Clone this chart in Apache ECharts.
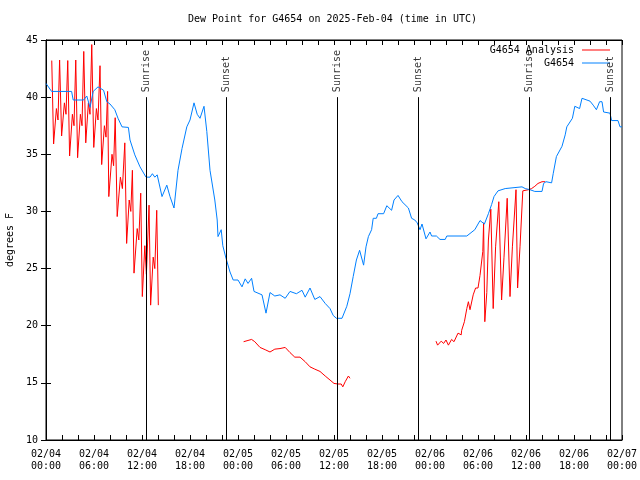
<!DOCTYPE html>
<html><head><meta charset="utf-8">
<script src="https://cdn.jsdelivr.net/npm/echarts@6/dist/echarts.min.js"></script>
<style>html,body{margin:0;padding:0;background:#fff}#c{width:640px;height:480px}</style>
</head><body><div id="c"></div>
<script>
// ---- data (hours since 2025-02-04 00:00 UTC, dew point °F) ----
const titleText = 'Dew Point for G4654 on 2025-Feb-04 (time in UTC)';
const yName = 'degrees F';
const yMin = 10, yMax = 45, yStep = 5;
const xMin = 0, xMax = 72, xStep = 2, xLabelEvery = 6;
const startDay = 4;

const obsG4654 = [
  [0.0,41.2],[0.16,41.2],[0.7,40.5],[3.2,40.5],[3.4,39.75],[4.7,39.75],[5.1,40.1],[5.5,39.1],[5.9,40.5],
  [6.5,40.9],[7.2,40.6],[7.6,39.6],[8.0,39.4],[8.6,38.9],[9.0,38.15],[9.5,37.4],[10.3,37.35],[10.5,36.25],
  [11.1,34.95],[11.75,33.9],[12.5,33.0],[13.0,33.0],[13.3,33.3],[13.6,33.0],[13.9,33.2],[14.5,31.3],[15.1,32.3],
  [15.5,31.3],[16.0,30.3],[16.5,33.6],[17.0,35.5],[17.6,37.4],[18.0,38.0],[18.5,39.5],[18.9,38.5],
  [19.25,38.15],[19.75,39.2],[20.1,37.0],[20.5,33.6],[21.1,31.0],[21.4,29.25],[21.5,27.8],[21.9,28.4],
  [22.1,27.0],[22.5,25.9],[23.0,24.7],[23.4,24.0],[24.0,24.0],[24.5,23.4],[24.9,24.1],[25.25,23.7],
  [25.7,24.15],[26.0,23.0],[27.0,22.7],[27.5,21.1],[28.0,22.9],[28.6,22.6],[29.25,22.7],[29.9,22.4],
  [30.5,23.0],[31.3,22.8],[32.0,23.1],[32.4,22.5],[33.0,23.3],[33.6,22.3],[34.25,22.55],[34.9,21.95],
  [35.5,21.5],[35.9,20.9],[36.3,20.65],[37.0,20.65],[37.6,21.7],[38.0,22.8],[38.4,24.3],[38.8,25.75],
  [39.2,26.6],[39.7,25.3],[40.0,26.9],[40.3,27.8],[40.7,28.4],[40.9,29.4],[41.3,29.4],[41.5,29.8],
  [42.2,29.8],[42.6,30.5],[43.2,30.1],[43.5,31.0],[44.0,31.4],[44.5,30.85],[45.3,30.3],[45.7,29.4],
  [46.1,29.25],[46.4,29.0],[46.75,28.4],[47.0,28.9],[47.5,27.6],[48.0,28.2],[48.2,27.85],[48.8,27.85],
  [49.25,27.55],[49.9,27.55],[50.1,27.85],[52.6,27.85],[53.6,28.4],[54.25,29.2],[54.8,28.9],[55.3,29.8],
  [55.7,30.6],[56.0,31.3],[56.5,31.8],[57.4,32.0],[59.5,32.15],[59.9,32.0],[60.5,31.9],[61.1,31.75],
  [62.0,31.75],[62.2,32.45],[62.5,32.6],[63.2,32.5],[63.4,33.3],[63.8,34.8],[64.5,35.7],[64.9,36.7],
  [65.1,37.4],[65.8,38.15],[66.1,39.2],[66.7,39.0],[67.0,39.9],[68.0,39.65],[68.4,39.3],[68.8,38.9],
  [69.2,39.6],[69.5,39.6],[69.7,38.7],[70.5,38.6],[70.7,37.95],[71.5,37.95],[71.75,37.4],[72.0,37.4]
];

const analysisDay1 = [
  [0.72,43.2],[0.95,35.9],[1.3,39.0],[1.5,38.0],[1.7,43.25],[1.95,36.6],[2.3,39.5],[2.5,38.5],
  [2.72,43.2],[2.95,34.85],[3.3,38.5],[3.5,37.5],[3.72,43.25],[3.95,34.7],[4.3,38.5],[4.5,37.5],
  [4.72,44.0],[4.97,36.0],[5.3,39.5],[5.5,38.5],[5.72,44.6],[5.97,35.6],[6.3,39.0],[6.5,38.0],
  [6.75,42.75],[6.96,34.1],[7.3,37.5],[7.5,36.5],[7.7,40.5],[7.85,31.3],[8.25,35.0],[8.45,34.0],
  [8.65,38.2],[8.9,29.55],[9.3,33.0],[9.55,32.0],[9.85,36.0],[10.08,27.2],[10.4,31.0],[10.6,30.0],
  [10.8,33.6],[11.0,24.6],[11.4,28.5],[11.6,27.5],[11.84,31.6],[12.04,22.55],[12.35,27.0],[12.55,24.5],
  [12.88,30.55],[13.08,21.8],[13.4,26.0],[13.6,25.0],[13.84,30.1],[14.04,21.8]
];
const analysisDay2 = [
  [24.7,18.6],[24.9,18.5],[25.7,18.8],[26.1,18.6],[26.75,18.1],[27.4,17.9],[28.0,17.7],[28.6,17.95],
  [29.25,18.0],[29.9,18.1],[30.5,17.65],[31.1,17.25],[31.75,17.25],[32.4,16.85],[33.0,16.4],[33.6,16.2],
  [34.25,16.0],[34.9,15.6],[35.5,15.25],[36.0,14.95],[36.25,14.8],[36.5,14.9],[36.9,14.9],[37.1,14.65],
  [37.4,15.1],[37.8,15.6],[38.0,15.4]
];
const analysisDay3 = [
  [48.75,18.65],[48.95,18.3],[49.4,18.65],[49.7,18.45],[50.0,18.75],[50.3,18.3],[50.7,18.8],[51.0,18.6],
  [51.5,19.35],[51.9,19.2],[51.96,19.6],[52.3,20.35],[52.6,21.5],[52.8,22.1],[53.0,21.4],[53.4,22.7],
  [53.7,23.3],[54.0,23.3],[54.25,24.4],[54.4,24.3],[54.6,26.5],[54.7,29.0],[54.85,20.35],[55.1,22.9],
  [55.3,27.5],[55.6,30.2],[55.9,21.5],[56.2,26.9],[56.6,30.85],[56.95,22.25],[57.25,26.0],[57.65,31.15],
  [58.0,22.55],[58.3,26.9],[58.75,31.9],[58.95,23.3],[59.25,26.9],[59.6,31.8],[60.3,31.9],[60.7,32.0],
  [61.1,32.2],[61.5,32.45],[62.0,32.6],[62.4,32.6]
];

const sunTimes = [12.54, 22.54, 36.4, 46.5, 60.4, 70.54];
const sunNames = ['Sunrise','Sunset','Sunrise','Sunset','Sunrise','Sunset'];
const sunLineTop = 40;

// ---- chart ----
const FONT = 'DejaVu Sans Mono';
const RED = '#ff0000', BLUE = '#0080ff';
const pad2 = n => (n < 10 ? '0' : '') + n;
function xLabel(v) {
  if (v % xLabelEvery !== 0) return '';
  const d = startDay + Math.floor(v / 24);
  const h = v % 24;
  return '02/' + pad2(d) + '\n' + pad2(h) + ':00';
}
const axisCommon = {
  axisLine: { show: true, lineStyle: { color: '#000', width: 1 } },
  axisTick: { show: true, inside: true, length: 5, lineStyle: { color: '#000' } },
  splitLine: { show: false }
};
const chart = echarts.init(document.getElementById('c'), null, { renderer: 'canvas' });
const analysisLine = (data) => ({
  name: 'G4654 Analysis', type: 'line', data, showSymbol: false, symbol: 'none',
  lineStyle: { color: RED, width: 1 }, itemStyle: { color: RED }, animation: false, z: 3
});
const legendText = { fontFamily: FONT, fontSize: 10, color: '#000', padding: [0, 3, 0, 0] };
chart.setOption({
  backgroundColor: '#fff',
  animation: false,
  title: {
    text: titleText, left: 188, top: 14, padding: 0,
    textStyle: { fontFamily: FONT, fontSize: 10, fontWeight: 'normal', color: '#000' }
  },
  legend: [
    { data: ['G4654 Analysis'], right: 30, top: 45, padding: 0, align: 'right', icon: 'rect', itemWidth: 28, itemHeight: 1,
      textStyle: legendText, selectedMode: false },
    { data: ['G4654'], right: 30, top: 58, padding: 0, align: 'right', icon: 'rect', itemWidth: 28, itemHeight: 1,
      textStyle: legendText, selectedMode: false }
  ],
  grid: { left: 46, right: 18, top: 40, bottom: 40, containLabel: false, outerBoundsMode: 'none',
    show: true, borderColor: '#000', borderWidth: 1, backgroundColor: 'transparent' },
  xAxis: [
    Object.assign({}, axisCommon, {
      type: 'value', min: xMin, max: xMax, interval: xStep, position: 'bottom',
      axisLabel: { formatter: xLabel, fontFamily: FONT, fontSize: 10, color: '#000', lineHeight: 12, margin: 8, showMinLabel: true, showMaxLabel: true, hideOverlap: false }
    }),
    Object.assign({}, axisCommon, {
      type: 'value', min: xMin, max: xMax, interval: xStep, position: 'top',
      axisLabel: { show: false }
    })
  ],
  yAxis: [
    Object.assign({}, axisCommon, {
      type: 'value', min: yMin, max: yMax, interval: yStep, position: 'left',
      name: yName, nameLocation: 'middle', nameGap: 30, nameRotate: 90,
      nameTextStyle: { fontFamily: FONT, fontSize: 10, color: '#000' },
      axisLabel: { fontFamily: FONT, fontSize: 10, color: '#000', margin: 8 }
    }),
    Object.assign({}, axisCommon, {
      type: 'value', min: yMin, max: yMax, interval: yStep, position: 'right',
      axisLabel: { show: false }
    })
  ],
  series: [
    analysisLine(analysisDay1),
    analysisLine(analysisDay2),
    analysisLine(analysisDay3),
    {
      name: 'G4654', type: 'line', data: obsG4654, showSymbol: false, symbol: 'none',
      lineStyle: { color: BLUE, width: 1 }, itemStyle: { color: BLUE }, z: 4,
      markLine: {
        silent: true, symbol: ['none', 'none'], animation: false,
        lineStyle: { color: '#000', width: 1, type: 'solid' },
        label: { show: false },
        data: sunTimes.map(t => [{ coord: [t, yMin] }, { coord: [t, sunLineTop] }])
      }
    },
    {
      name: 'sun', type: 'scatter', symbolSize: 0, silent: true, z: 5,
      data: sunTimes.map(t => [t, sunLineTop]),
      label: {
        show: true, formatter: p => sunNames[p.dataIndex], position: 'top', distance: 5,
        rotate: 90, align: 'left', verticalAlign: 'middle',
        fontFamily: FONT, fontSize: 10, color: '#000'
      }
    }
  ]
});
</script>
</body></html>
